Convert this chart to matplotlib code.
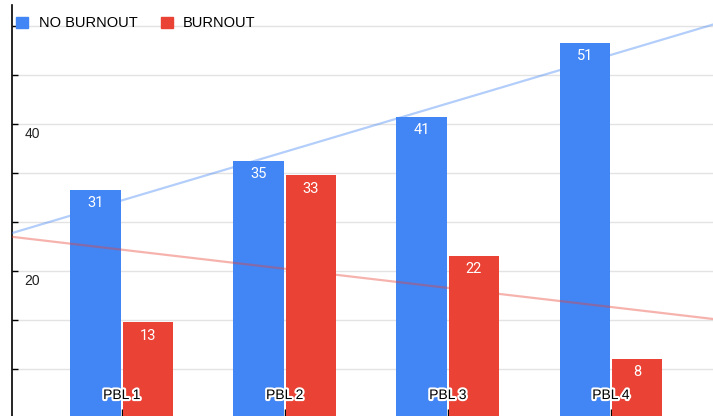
import numpy as np
import matplotlib
matplotlib.use("Agg")
import matplotlib.pyplot as plt
import matplotlib.patheffects as pe
import matplotlib.transforms as mtransforms
from matplotlib.patches import Patch
from matplotlib.ticker import MultipleLocator, FuncFormatter

categories = ["PBL 1", "PBL 2", "PBL 3", "PBL 4"]
no_burnout = [31, 35, 41, 51]
burnout = [13, 33, 22, 8]

BLUE = "#4285F4"
RED = "#EA4335"

plt.rcParams["font.family"] = ["Liberation Sans", "DejaVu Sans"]

fig = plt.figure(figsize=(7.13, 4.16), dpi=100)
ax = fig.add_axes([12 / 713, 0, 1 - 12 / 713, 1 - 5 / 416])

x = np.arange(len(categories))
w = 0.31
b1 = ax.bar(x - 0.16, no_burnout, w, color=BLUE, zorder=2)
b2 = ax.bar(x + 0.16, burnout, w, color=RED, zorder=2)

ax.set_xlim(-0.673, 3.626)
ax.set_ylim(0.27, 56.19)

# linear trendlines, drawn across the whole plot
xs = np.array(ax.get_xlim())
for vals, col in [(no_burnout, BLUE), (burnout, RED)]:
    k, c = np.polyfit(x, vals, 1)
    ax.plot(xs, k * xs + c, color=col, alpha=0.4, lw=1.6, zorder=3)

# value labels inside the bar tops
for bars, vals in [(b1, no_burnout), (b2, burnout)]:
    for r, v in zip(bars, vals):
        ax.annotate(str(v), (r.get_x() + r.get_width() / 2, v),
                    xytext=(0, -9.5), textcoords="offset points",
                    ha="center", va="center", color="white",
                    fontsize=10.5, family="Roboto", zorder=4)

# y axis: gridlines every 20/3, labels only at multiples of 20
ax.yaxis.set_major_locator(MultipleLocator(20 / 3))
ax.yaxis.set_major_formatter(FuncFormatter(
    lambda v, p: f"{v:.0f}" if abs(v / 20 - round(v / 20)) < 1e-6 and v > 1 else ""))
ax.grid(axis="y", color="#e3e3e3", lw=1, zorder=0)
ax.tick_params(axis="y", direction="in", length=4, width=1, color="black",
               pad=-9, labelsize=10, labelcolor="#222222")
shift = mtransforms.ScaledTranslation(0, -3 / 100, fig.dpi_scale_trans)
for lab in ax.get_yticklabels():
    lab.set_ha("left")
    lab.set_va("top")
    lab.set_transform(lab.get_transform() + shift)

# category ticks; the labels sit inside the plot over the bars
ax.set_xticks(x)
ax.set_xticklabels([])
ax.tick_params(axis="x", direction="in", length=5, width=1, color="black")
for xi, name in zip(x, categories):
    t = ax.text(xi, 0.051, name, transform=ax.get_xaxis_transform(),
                ha="center", va="center", fontsize=10, color="black", zorder=5)
    t.set_path_effects([pe.withStroke(linewidth=3, foreground="white")])

for s in ["top", "right", "bottom"]:
    ax.spines[s].set_visible(False)
ax.spines["left"].set_color("black")
ax.spines["left"].set_linewidth(1.2)
ax.set_axisbelow(True)

handles = [Patch(color=BLUE), Patch(color=RED)]
fig.legend(handles, ["NO BURNOUT", "BURNOUT"], loc="upper left",
           bbox_to_anchor=(0.008, 0.985), ncol=2, frameon=False, fontsize=10.5,
           handlelength=0.85, handleheight=0.85, handletextpad=0.7,
           columnspacing=1.6, borderaxespad=0.3)

fig.savefig("out.png", dpi=100)
